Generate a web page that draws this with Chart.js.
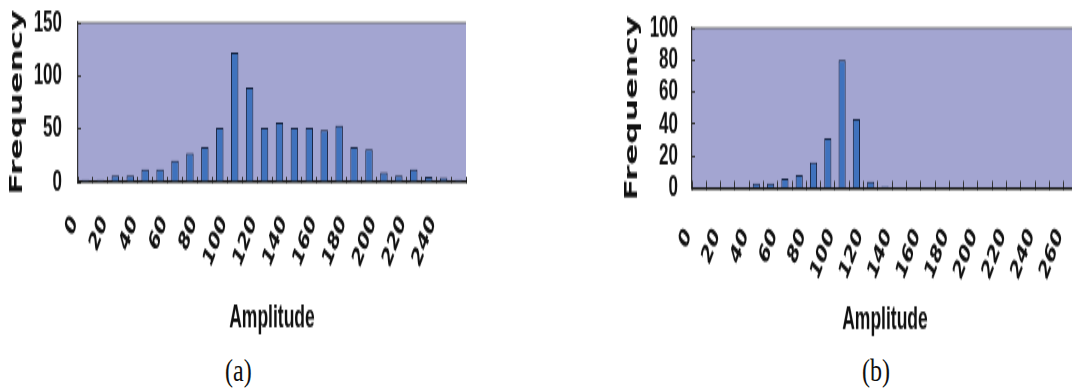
<!DOCTYPE html>
<html>
<head>
<meta charset="utf-8">
<script src="https://cdn.jsdelivr.net/npm/chart.js@4.4.1/dist/chart.umd.min.js"></script>
<style>
html, body { margin: 0; padding: 0; background: #fff; overflow: hidden; width: 1072px; height: 392px; }
/* the scanned figure is stretched vertically, so the charts are too */
.wrap { position: absolute; top: 0; transform-origin: 0 0; transform: scaleY(1.75); }
#wrapA { left: 0; width: 480px; height: 195px; }
#wrapB { left: 600px; width: 490px; height: 195px; }
.cap { position: absolute; top: 354px; font-family: 'Liberation Serif', 'Times New Roman', serif; font-size: 24px; color: #111;
       transform-origin: 0 0; transform: scaleY(1.3); }
</style>
</head>
<body>
<div class="wrap" id="wrapA"><canvas id="chartA" width="480" height="195"></canvas></div>
<div class="wrap" id="wrapB"><canvas id="chartB" width="490" height="195"></canvas></div>
<div class="cap" style="left:225px">(a)</div>
<div class="cap" style="left:862px">(b)</div>
<script>
// histogram (a)
const binsA = [0, 10, 20, 30, 40, 50, 60, 70, 80, 90, 100, 110, 120, 130, 140, 150, 160, 170, 180, 190, 200, 210, 220, 230, 240, 250];
const freqA = [2, 2, 6, 6, 12, 12, 20, 27, 33, 51, 122, 89, 51, 56, 51, 51, 49, 53, 33, 31, 9, 6, 12, 5, 4, 2];
const yMaxA = 150, yStepA = 50;

// histogram (b)
const binsB = [0, 10, 20, 30, 40, 50, 60, 70, 80, 90, 100, 110, 120, 130, 140, 150, 160, 170, 180, 190, 200, 210, 220, 230, 240, 250, 260];
const freqB = [0, 0, 0, 0, 3, 3, 6, 8, 16, 31, 80, 43, 4, 1, 0, 0, 0, 0, 0, 0, 0, 0, 0, 0, 0, 0, 0];
const yMaxB = 100, yStepB = 20;

// lavender plot background + thin top edge
const plotBg = {
    id: 'plotBg',
    beforeDraw(chart) {
        const a = chart.chartArea, ctx = chart.ctx;
        ctx.save();
        ctx.fillStyle = '#a3a5d1';
        ctx.fillRect(a.left, a.top, a.right - a.left, a.bottom - a.top);
        ctx.strokeStyle = '#555';
        ctx.lineWidth = 0.8;
        ctx.beginPath();
        ctx.moveTo(a.left, a.top);
        ctx.lineTo(a.right, a.top);
        ctx.stroke();
        ctx.restore();
    }
};

function makeHist(id, bins, freq, o) {
    return new Chart(document.getElementById(id), {
        type: 'bar',
        data: {
            labels: bins,
            datasets: [{
                data: freq,
                backgroundColor: '#3f72bd',
                borderColor: '#15223f',
                borderWidth: 1,
                categoryPercentage: 1,
                barPercentage: 0.5
            }]
        },
        options: {
            responsive: false,
            animation: false,
            layout: { padding: o.padding },
            plugins: { legend: { display: false }, tooltip: { enabled: false } },
            scales: {
                x: {
                    grid: { offset: true, drawOnChartArea: false, tickLength: o.tickX, color: '#333' },
                    border: { color: '#111', width: 1.6 },
                    ticks: {
                        autoSkip: false, minRotation: 58, maxRotation: 58,
                        padding: o.xPad, labelOffset: -11, color: '#111',
                        font: { family: 'DejaVu Sans', weight: 'bold', size: 15 },
                        callback: function(v) {
                            const l = this.getLabelForValue(v);
                            return l % 20 === 0 ? l : '';
                        }
                    },
                    title: {
                        display: true, text: 'Amplitude', color: '#111',
                        font: { family: 'Liberation Sans', weight: 'bold', size: 17.5 },
                        padding: { top: 0, bottom: 0 }
                    },
                    afterFit(s) { s.height = o.xHeight; s.paddingLeft = 0; s.paddingRight = 0; }
                },
                y: {
                    min: 0, max: o.max,
                    grid: { drawOnChartArea: false, tickLength: -3, color: '#333' },
                    border: { color: '#333', width: 1.2 },
                    ticks: {
                        autoSkip: false, stepSize: o.step, padding: o.yPad, color: '#111',
                        font: { family: 'Liberation Sans', weight: 'bold', size: 17 }
                    },
                    title: {
                        display: true, text: 'Frequency', color: '#111',
                        font: { family: 'DejaVu Sans', weight: 'bold', size: 18 },
                        padding: { top: 2, bottom: 2 }
                    },
                    afterFit(s) { s.width = o.yWidth; s.paddingTop = 0; s.paddingBottom = 0; }
                }
            }
        },
        plugins: [plotBg]
    });
}

makeHist('chartA', binsA, freqA, {
    max: yMaxA, step: yStepA, tickX: -3, xPad: 19, yPad: 19, xHeight: 89, yWidth: 73,
    padding: { left: 5, right: 14, top: 13, bottom: 2 }
});
makeHist('chartB', binsB, freqB, {
    max: yMaxB, step: yStepB, tickX: -4, xPad: 24, yPad: 17, xHeight: 86, yWidth: 72,
    padding: { left: 20, right: 12, top: 16, bottom: 1.6 }
});
</script>
</body>
</html>
